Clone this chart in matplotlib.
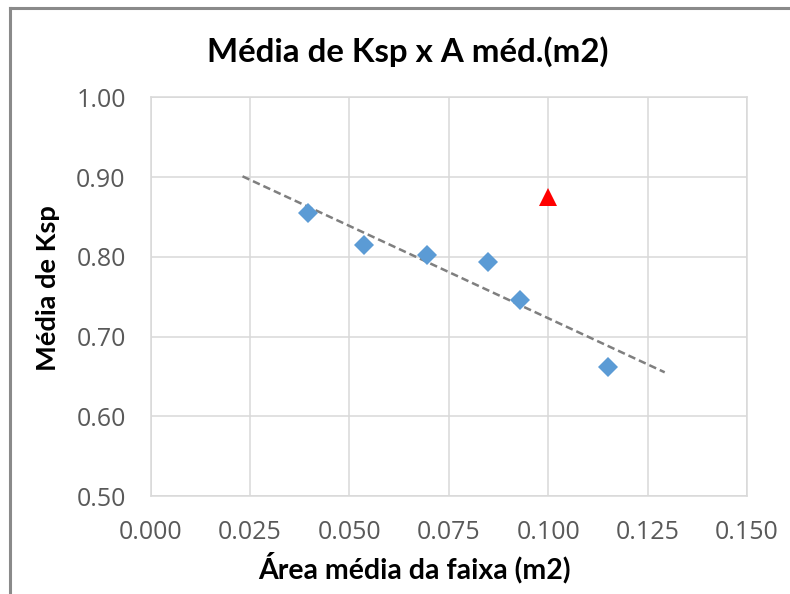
import numpy as np
import matplotlib
matplotlib.use("Agg")
import matplotlib.pyplot as plt
from matplotlib.lines import Line2D

# Mean Ksp against mean strip area
area = [0.0395, 0.0537, 0.0694, 0.0849, 0.0929, 0.1151]
ksp = [0.8545, 0.8147, 0.8021, 0.7930, 0.7457, 0.6620]

# Highlighted reference point
ref_area = [0.100]
ref_ksp = [0.875]

# Trendline extension (backward / forward) along the x axis
trend_backward = 0.0164
trend_forward = 0.0142

x_ticks = [0.000, 0.025, 0.050, 0.075, 0.100, 0.125, 0.150]
y_ticks = [0.50, 0.60, 0.70, 0.80, 0.90, 1.00]

title = "Média de Ksp x A méd.(m2)"
xlabel = "Área média da faixa (m2)"
ylabel = "Média de Ksp"

plt.rcParams["font.family"] = ["Lato", "DejaVu Sans"]

fig = plt.figure(figsize=(7.9, 5.94), dpi=100)
W, H = 790, 594
ax = fig.add_axes([150.7 / W, 1 - 496 / H, (747 - 150.7) / W, (496 - 97.3) / H])

grid_c = "#d9d9d9"
ax.set_xlim(x_ticks[0], x_ticks[-1])
ax.set_ylim(y_ticks[0], y_ticks[-1])
ax.set_xticks(x_ticks)
ax.set_yticks(y_ticks)
ax.set_xticklabels([f"{v:.3f}" for v in x_ticks])
ax.set_yticklabels([f"{v:.2f}" for v in y_ticks])
ax.grid(True, color=grid_c, linewidth=1.1, zorder=0)
ax.set_axisbelow(True)
for s in ax.spines.values():
    s.set_color(grid_c)
    s.set_linewidth(1.1)
ax.tick_params(length=0, labelsize=18, labelcolor="#595959")
ax.tick_params(axis="x", pad=17)
ax.tick_params(axis="y", pad=18)
for lbl in ax.get_xticklabels() + ax.get_yticklabels():
    lbl.set_family(["Open Sans", "DejaVu Sans"])

# Linear trendline fitted to the series
xa = np.array(area)
ya = np.array(ksp)
slope, intercept = np.polyfit(xa, ya, 1)
xt = np.array([xa.min() - trend_backward, xa.max() + trend_forward])
ax.plot(xt, slope * xt + intercept, color="#7f7f7f", linewidth=1.8,
        linestyle=(0, (3, 1.6)), zorder=2)

ax.plot(area, ksp, linestyle="none", marker="D", markersize=10,
        color="#5b9bd5", markeredgewidth=0, zorder=3)
ax.plot(ref_area, ref_ksp, linestyle="none", marker="^", markersize=13,
        color="#ff0000", markeredgewidth=0, zorder=3)

fig.text(408 / W, 1 - 52 / H, title, ha="center", va="center",
         fontsize=23.8, fontweight="bold", color="black")
fig.text(414 / W, 1 - 568 / H, xlabel, ha="center", va="center",
         fontsize=20.5, fontweight="bold", color="black")
fig.text(48 / W, 1 - 288 / H, ylabel, ha="center", va="center",
         rotation=90, fontsize=19.6, fontweight="bold", color="black")

# Chart frame (top and left edges visible)
frame_c = "#8a8a8a"
fig.add_artist(Line2D([9.5 / W, 1.0], [1 - 8 / H, 1 - 8 / H],
                      transform=fig.transFigure, color=frame_c, linewidth=2.2))
fig.add_artist(Line2D([10 / W, 10 / W], [0.0, 1 - 8 / H],
                      transform=fig.transFigure, color=frame_c, linewidth=2.2))

fig.savefig("out.png", dpi=100, facecolor="white")
